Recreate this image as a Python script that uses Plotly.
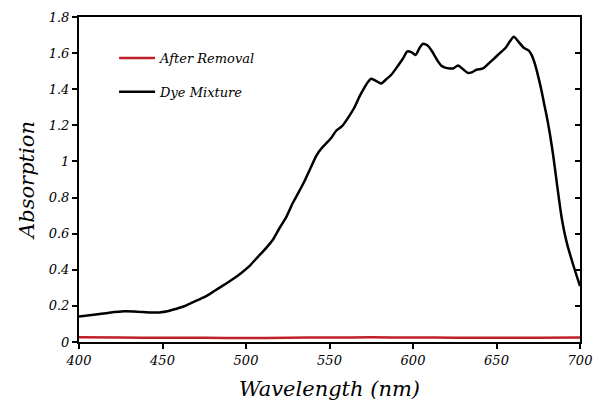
import plotly.graph_objects as go

# Dye Mixture spectrum
dye_wavelength = [400, 410, 418, 427, 435, 443, 448, 453, 458, 463, 468, 473, 478, 484, 490, 497,
                  502, 507, 512, 516, 520, 524, 528, 531, 535, 538, 542, 545, 548, 551, 554, 557.5,
                  561, 565, 568, 571, 573, 575, 577, 579, 581, 584, 587, 591, 594, 596.6, 599,
                  601.6, 604, 606, 609, 611.4, 613, 615.3, 617, 619.2, 622, 624.1, 627, 630, 633,
                  635.5, 638, 642, 645, 648, 652, 655.5, 658, 660.4, 663, 666.3, 669.2, 671, 673,
                  675, 677, 678.5, 680.5, 682.2, 684, 686, 689, 692, 696, 700]
dye_absorption = [0.141, 0.152, 0.162, 0.170, 0.168, 0.163, 0.164, 0.170, 0.183, 0.198, 0.219, 0.240,
                  0.264, 0.300, 0.335, 0.381, 0.42, 0.47, 0.52, 0.565, 0.63, 0.69, 0.77, 0.82,
                  0.89, 0.95, 1.03, 1.07, 1.10, 1.13, 1.17, 1.195, 1.24, 1.30, 1.36, 1.41, 1.44,
                  1.458, 1.45, 1.44, 1.432, 1.455, 1.48, 1.53, 1.57, 1.61, 1.605, 1.59, 1.63, 1.652,
                  1.64, 1.61, 1.585, 1.55, 1.53, 1.52, 1.515, 1.515, 1.532, 1.51, 1.49, 1.495, 1.508,
                  1.515, 1.54, 1.565, 1.60, 1.63, 1.665, 1.69, 1.665, 1.63, 1.615, 1.59, 1.54, 1.47,
                  1.39, 1.32, 1.23, 1.14, 1.03, 0.89, 0.69, 0.553, 0.425, 0.31]

# After Removal spectrum
removal_wavelength = [400, 425, 450, 475, 500, 525, 550, 575, 600, 625, 650, 675, 700]
removal_absorption = [0.026, 0.025, 0.023, 0.023, 0.022, 0.024, 0.025, 0.026, 0.025, 0.024, 0.024, 0.024, 0.025]

FONT = "DejaVu Serif"

fig = go.Figure()
fig.add_trace(go.Scatter(x=removal_wavelength, y=removal_absorption, mode="lines",
                         name="After Removal", line=dict(color="#C0202A", width=2.5, shape="spline"),
                         legendgroup="a"))
fig.add_trace(go.Scatter(x=dye_wavelength, y=dye_absorption, mode="lines",
                         name="Dye Mixture", line=dict(color="black", width=2.5, shape="spline", smoothing=0.6),
                         legendgroup="b"))
# invisible trace to host the right-side axis
fig.add_trace(go.Scatter(x=[400, 700], y=[0, 0], yaxis="y2", mode="markers",
                         marker=dict(opacity=0), showlegend=False, hoverinfo="skip"))

tickfont = dict(family=FONT, size=13, color="black", style="italic")
fig.update_layout(
    width=602, height=408,
    margin=dict(l=79, r=13, t=10, b=66),
    paper_bgcolor="white", plot_bgcolor="white",
    font=dict(family=FONT, color="black"),
    showlegend=True,
    legend=dict(x=0.07, y=0.92, xanchor="left", yanchor="top",
                font=dict(family=FONT, size=13, style="italic", color="black"),
                bgcolor="rgba(0,0,0,0)", traceorder="grouped", tracegroupgap=14,
                itemwidth=36),
    xaxis=dict(range=[400, 700], tickvals=[400, 450, 500, 550, 600, 650, 700],
               showgrid=False, zeroline=False, showline=True, linecolor="black", linewidth=2,
               mirror=True, ticks="outside", ticklen=5, tickwidth=2, tickcolor="black",
               tickfont=tickfont,
               title=dict(text="Wavelength (nm)", font=dict(family=FONT, size=21, style="italic"),
                          standoff=15)),
    yaxis=dict(range=[0, 1.8], tickvals=[0, 0.2, 0.4, 0.6, 0.8, 1, 1.2, 1.4, 1.6, 1.8],
               showgrid=False, zeroline=False, showline=True, linecolor="black", linewidth=2,
               mirror=True, ticks="outside", ticklen=5, tickwidth=2, tickcolor="black",
               tickfont=tickfont,
               title=dict(text="Absorption", font=dict(family=FONT, size=21, style="italic"),
                          standoff=8)),
    yaxis2=dict(range=[0, 1.8], overlaying="y", side="right", anchor="x",
                tickvals=[0, 0.2, 0.4, 0.6, 0.8, 1, 1.2, 1.4, 1.6, 1.8],
                showticklabels=False, ticks="inside", ticklen=5, tickwidth=2, tickcolor="black",
                showgrid=False, zeroline=False, showline=False),
)

fig.write_html("out.html")
